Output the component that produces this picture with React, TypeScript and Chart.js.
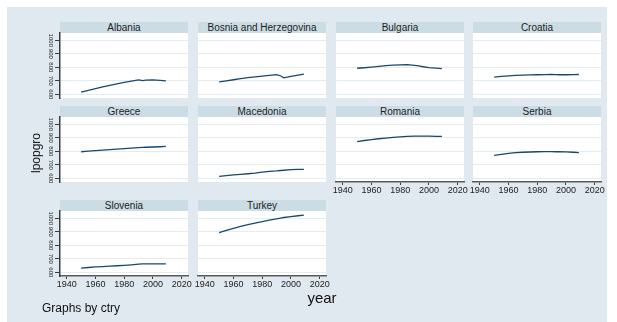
import React, { useEffect, useRef } from "react";
import { Chart, registerables } from "chart.js";

Chart.register(...registerables);

// Observation years shared by every country panel
const years = [1950, 1955, 1960, 1965, 1970, 1975, 1980, 1985, 1990, 1993, 1995, 2000, 2005, 2009];

const countries = [
  "Albania",
  "Bosnia and Herzegovina",
  "Bulgaria",
  "Croatia",
  "Greece",
  "Macedonia",
  "Romania",
  "Serbia",
  "Slovenia",
  "Turkey",
];

const albania = [617, 630, 643, 656, 667, 678, 688, 698, 707, 702, 706, 707, 703, 700];
const bosnia = [692, 700, 708, 716, 723, 729, 735, 740, 746, 736, 722, 733, 742, 749];
const bulgaria = [793, 797, 802, 807, 812, 816, 818, 820, 815, 810, 806, 798, 794, 791];
const croatia = [728, 733, 737, 740, 742, 744, 745, 746, 747, 746, 745, 745, 746, 747];
const greece = [797, 801, 805, 809, 812, 816, 820, 824, 827, 829, 830, 832, 834, 836];
const macedonia = [615, 620, 625, 630, 634, 638, 646, 652, 655, 658, 660, 665, 666, 666];
const romania = [872, 880, 887, 893, 898, 903, 907, 910, 913, 913, 913, 912, 911, 910];
const serbia = [770, 778, 785, 790, 793, 795, 797, 798, 798, 797, 797, 796, 793, 790];
const slovenia = [632, 636, 640, 643, 646, 649, 652, 656, 661, 662, 662, 662, 662, 662];
const turkey = [894, 911, 926, 940, 953, 965, 976, 986, 996, 1002, 1006, 1013, 1019, 1024];

const seriesByCountry = [albania, bosnia, bulgaria, croatia, greece, macedonia, romania, serbia, slovenia, turkey];

const yTicks = [600, 700, 800, 900, 1000];
const xTicks = [1940, 1960, 1980, 2000, 2020];

// Stata s2color-like palette
const BG = "#dfe9ef";
const STRIP = "#cbdce4";
const GRID = "#e3ecf1";
const NAVY = "#1a476f";
const AXIS = "#3c3c3c";
const FONT = "'Liberation Sans', Arial, Helvetica, sans-serif";

// Grid geometry (page pixels)
const COL_X = [60, 198, 336, 473];
const PLOT_W = 128;
const STRIP_TOP = [22, 106, 200];
const STRIP_H = 11;
const PLOT_H = 65;
const Y_AXIS_W = 24;
const X_AXIS_H = 20;
const PAD_L = 26;
const PAD_R = 14;
const PAD_T = 12;
const PAD_B = 22;

const whitePlot = {
  id: "whitePlot",
  beforeDraw(chart: any) {
    const { ctx, chartArea } = chart;
    ctx.save();
    ctx.fillStyle = "#ffffff";
    ctx.fillRect(chartArea.left, chartArea.top, chartArea.right - chartArea.left, chartArea.bottom - chartArea.top);
    ctx.restore();
  },
};

function Panel({ index }: { index: number }) {
  const ref = useRef<HTMLCanvasElement | null>(null);
  const row = Math.floor(index / 4);
  const col = index % 4;
  const hasY = col === 0;
  const hasX = index + 4 >= countries.length;
  const plotX = COL_X[col];
  const plotY = STRIP_TOP[row] + STRIP_H;
  const cw = PAD_L + PLOT_W + PAD_R;
  const ch = PAD_T + PLOT_H + PAD_B;

  useEffect(() => {
    if (!ref.current) return;
    const values = seriesByCountry[index];
    const chart = new Chart(ref.current, {
      type: "line",
      data: {
        datasets: [
          {
            data: years.map((yr, i) => ({ x: yr, y: values[i] })),
            borderColor: NAVY,
            borderWidth: 1.3,
            pointRadius: 0,
            tension: 0,
          },
        ],
      },
      options: {
        animation: false,
        responsive: false,
        devicePixelRatio: 1,
        layout: {
          padding: {
            left: hasY ? PAD_L - Y_AXIS_W : PAD_L,
            right: PAD_R,
            top: PAD_T,
            bottom: hasX ? PAD_B - X_AXIS_H : PAD_B,
          },
        },
        plugins: { legend: { display: false }, tooltip: { enabled: false } },
        scales: {
          x: {
            type: "linear",
            min: 1935.3,
            max: 2024.4,
            display: hasX,
            afterBuildTicks: (s: any) => {
              s.ticks = xTicks.map((v) => ({ value: v }));
            },
            afterFit: (s: any) => {
              s.height = hasX ? X_AXIS_H : 0;
            },
            grid: {
              drawOnChartArea: false,
              drawTicks: true,
              tickLength: 3,
              tickColor: AXIS,
              tickWidth: 1,
            },
            border: { display: true, color: "#5a5a5a", width: 1.6 },
            ticks: {
              color: "#222",
              padding: 0,
              maxRotation: 0,
              autoSkip: false,
              font: { family: FONT, size: 9 },
              callback: (v: any) => String(v),
            },
          },
          y: {
            type: "linear",
            min: 573,
            max: 1054,
            afterBuildTicks: (s: any) => {
              s.ticks = yTicks.map((v) => ({ value: v }));
            },
            afterFit: (s: any) => {
              s.width = hasY ? Y_AXIS_W : 0;
            },
            grid: {
              color: GRID,
              lineWidth: 1,
              drawTicks: hasY,
              tickLength: 5,
              tickColor: AXIS,
              tickWidth: 1,
            },
            border: { display: hasY, color: AXIS, width: 1.5 },
            ticks: {
              display: hasY,
              color: "#222",
              padding: -2,
              minRotation: -90,
              maxRotation: -90,
              crossAlign: "center",
              autoSkip: false,
              font: { family: FONT, size: 6 },
              callback: (v: any) => String(v),
            },
          },
        },
      },
      plugins: [whitePlot],
    } as any);
    return () => chart.destroy();
  }, [index]);

  return (
    <>
      <div
        style={{
          position: "absolute",
          left: plotX,
          top: STRIP_TOP[row],
          width: PLOT_W,
          height: STRIP_H,
          background: STRIP,
          color: "#222",
          font: `10px ${FONT}`,
          lineHeight: `${STRIP_H}px`,
          textAlign: "center",
          whiteSpace: "nowrap",
        }}
      >
        {countries[index]}
      </div>
      <canvas
        ref={ref}
        width={cw}
        height={ch}
        style={{
          position: "absolute",
          left: plotX - PAD_L,
          top: plotY - PAD_T,
          width: cw,
          height: ch,
        }}
      />
    </>
  );
}

export default function App() {
  return (
    <div
      style={{
        position: "fixed",
        left: 0,
        top: 0,
        width: 617,
        height: 322,
        background: "#ffffff",
        overflow: "hidden",
        fontFamily: FONT,
      }}
    >
      <div style={{ position: "absolute", left: 7, top: 7, width: 600, height: 315, background: BG }} />
      {countries.map((_, i) => (
        <Panel key={i} index={i} />
      ))}
      <div
        style={{
          position: "absolute",
          left: 35.5,
          top: 153,
          transform: "translate(-50%, -50%) rotate(-90deg)",
          font: `12px ${FONT}`,
          color: "#111",
          whiteSpace: "nowrap",
        }}
      >
        lpopgro
      </div>
      <div
        style={{
          position: "absolute",
          left: 322,
          top: 297,
          transform: "translate(-50%, -50%)",
          font: `15px ${FONT}`,
          color: "#111",
          whiteSpace: "nowrap",
        }}
      >
        year
      </div>
      <div
        style={{
          position: "absolute",
          left: 42,
          top: 301,
          font: `12px ${FONT}`,
          color: "#111",
          whiteSpace: "nowrap",
        }}
      >
        Graphs by ctry
      </div>
    </div>
  );
}
